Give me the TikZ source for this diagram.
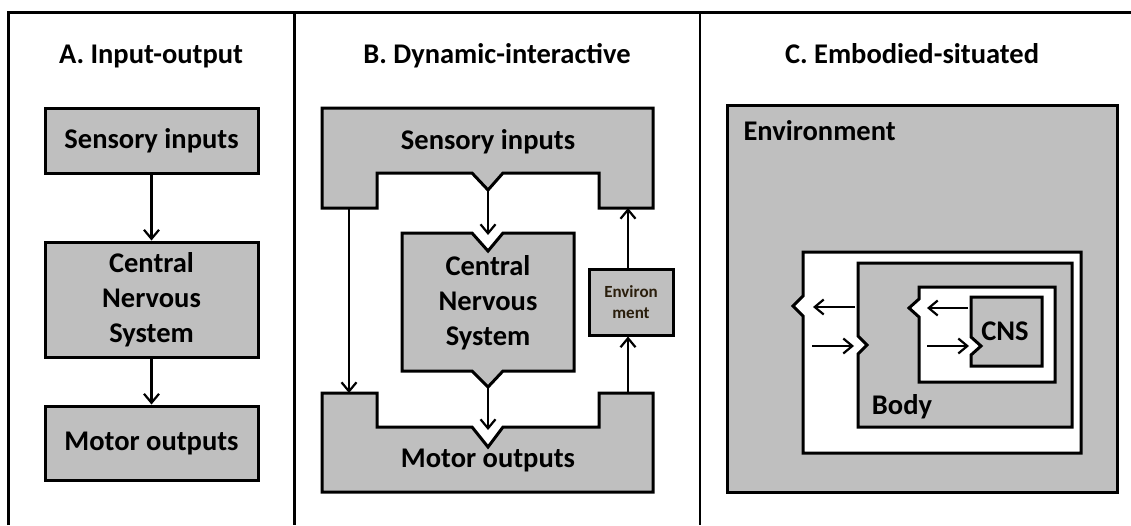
\documentclass[tikz,border=0pt]{standalone}
\usepackage{fontspec}
\setmainfont{Carlito}
\usepackage{tikz}
\usetikzlibrary{arrows.meta,positioning}
\definecolor{boxGray}{RGB}{191,191,191}
\definecolor{envText}{HTML}{2A1E0C}

\begin{document}
\begin{tikzpicture}[x=1pt, y=-1pt,
  every node/.style={font=\bfseries\fontsize{28.5}{35}\selectfont, align=center},
  title/.style={anchor=base},
  frame/.style={line width=3pt},
  block/.style={draw, line width=3pt, fill=boxGray, inner sep=0pt},
  outline/.style={draw, line width=3pt, line join=miter},
  flow/.style={-{Straight Barb[length=9pt, width=15pt, line width=2.2pt]}, line width=2.2pt},
]
\useasboundingbox (0,0) rectangle (1131,525);

% Panel frames
\draw[frame] (8,525) -- (8,12) -- (1131,12);
\draw[frame] (294,12) -- (294,525);
\draw[line width=2pt] (700,12) -- (700,525);

% Titles
\node[title] (titleA) at (151,63) {A. Input-output};
\node[title] (titleB) at (497,63) {B. Dynamic-interactive};
\node[title] (titleC) at (912,63) {C. Embodied-situated};

% A: straight chain
\node[block, minimum width=213, minimum height=65] (sensA) at (151.5,140.5) {Sensory inputs};
\node[block, minimum width=213, minimum height=115] (cnsA) at (151.5,299.5) {Central\\Nervous\\System};
\node[block, minimum width=213, minimum height=74] (motA) at (151.5,443) {Motor outputs};
\draw[flow] (sensA) -- (cnsA);
\draw[flow] (cnsA) -- (motA);

% B: loops through body and environment
\draw[outline, fill=boxGray] (322,108) -- (653,108) -- (653,208) -- (599,208) -- (599,173)
  -- (503,173) -- (488,190) -- (472,173) -- (377,173) -- (377,208) -- (322,208) -- cycle;
\draw[outline, fill=boxGray] (322,492) -- (653,492) -- (653,393) -- (599,393) -- (599,427)
  -- (503,427) -- (488,447) -- (472,427) -- (377,427) -- (377,393) -- (322,393) -- cycle;
\draw[outline, fill=boxGray] (402,233) -- (472,233) -- (488,251) -- (503,233) -- (574,233)
  -- (574,371) -- (503,371) -- (488,387) -- (472,371) -- (402,371) -- cycle;
\node (sensB) at (488,142) {Sensory inputs};
\node (motB) at (488,460) {Motor outputs};
\node (cnsB) at (488,303) {Central\\Nervous\\System};
\node[block, minimum width=84, minimum height=66, text=envText,
  font=\bfseries\fontsize{17}{21}\selectfont] (envB) at (631,302) {Environ\\ment};

\coordinate (sensTip) at (488,190);
\coordinate (cnsTop) at (488,235);
\coordinate (cnsTip) at (488,387);
\coordinate (motTop) at (488,430);
\coordinate (sensLeg) at (349,208);
\coordinate (motLeg) at (349,393);
\coordinate (motRight) at (628,393);
\coordinate (sensRight) at (628,208);
\draw[flow] (sensTip) -- (cnsTop);
\draw[flow] (cnsTip) -- (motTop);
\draw[flow] (sensLeg) -- (motLeg);
\draw[flow] (motRight) -- (motRight |- envB.south);
\draw[flow] (sensRight |- envB.north) -- (sensRight);

% C: nested environment / body / CNS
\draw[outline, fill=boxGray] (727,105) rectangle (1117,492);
\node[anchor=west] (envC) at (740,131) {Environment};
\draw[outline, fill=white] (803,252) -- (1081,252) -- (1081,453) -- (803,453) -- (803,316)
  -- (793,306) -- (803,296) -- cycle;
\draw[outline, fill=boxGray] (858,263) -- (1072,263) -- (1072,427) -- (858,427) -- (858,354)
  -- (867,345) -- (858,336) -- cycle;
\draw[outline, fill=white] (919,287) -- (1055,287) -- (1055,382) -- (919,382) -- (919,317)
  -- (909,308) -- (919,299) -- cycle;
\draw[outline, fill=boxGray] (971,297) -- (1042,297) -- (1042,366) -- (971,366) -- (971,355)
  -- (981,346) -- (971,337) -- cycle;
\node (body) at (902,407) {Body};
\node (cns) at (1005,331) {CNS};

\coordinate (bodyOut) at (855,307);
\coordinate (envIn) at (813,307);
\coordinate (envOut) at (812,346);
\coordinate (bodyIn) at (854,346);
\coordinate (cnsOut) at (968,308);
\coordinate (bodyIn2) at (927,308);
\coordinate (bodyOut2) at (927,346);
\coordinate (cnsIn) at (969,346);
\draw[flow] (bodyOut) -- (envIn);
\draw[flow] (envOut) -- (bodyIn);
\draw[flow] (cnsOut) -- (bodyIn2);
\draw[flow] (bodyOut2) -- (cnsIn);

\end{tikzpicture}
\end{document}
